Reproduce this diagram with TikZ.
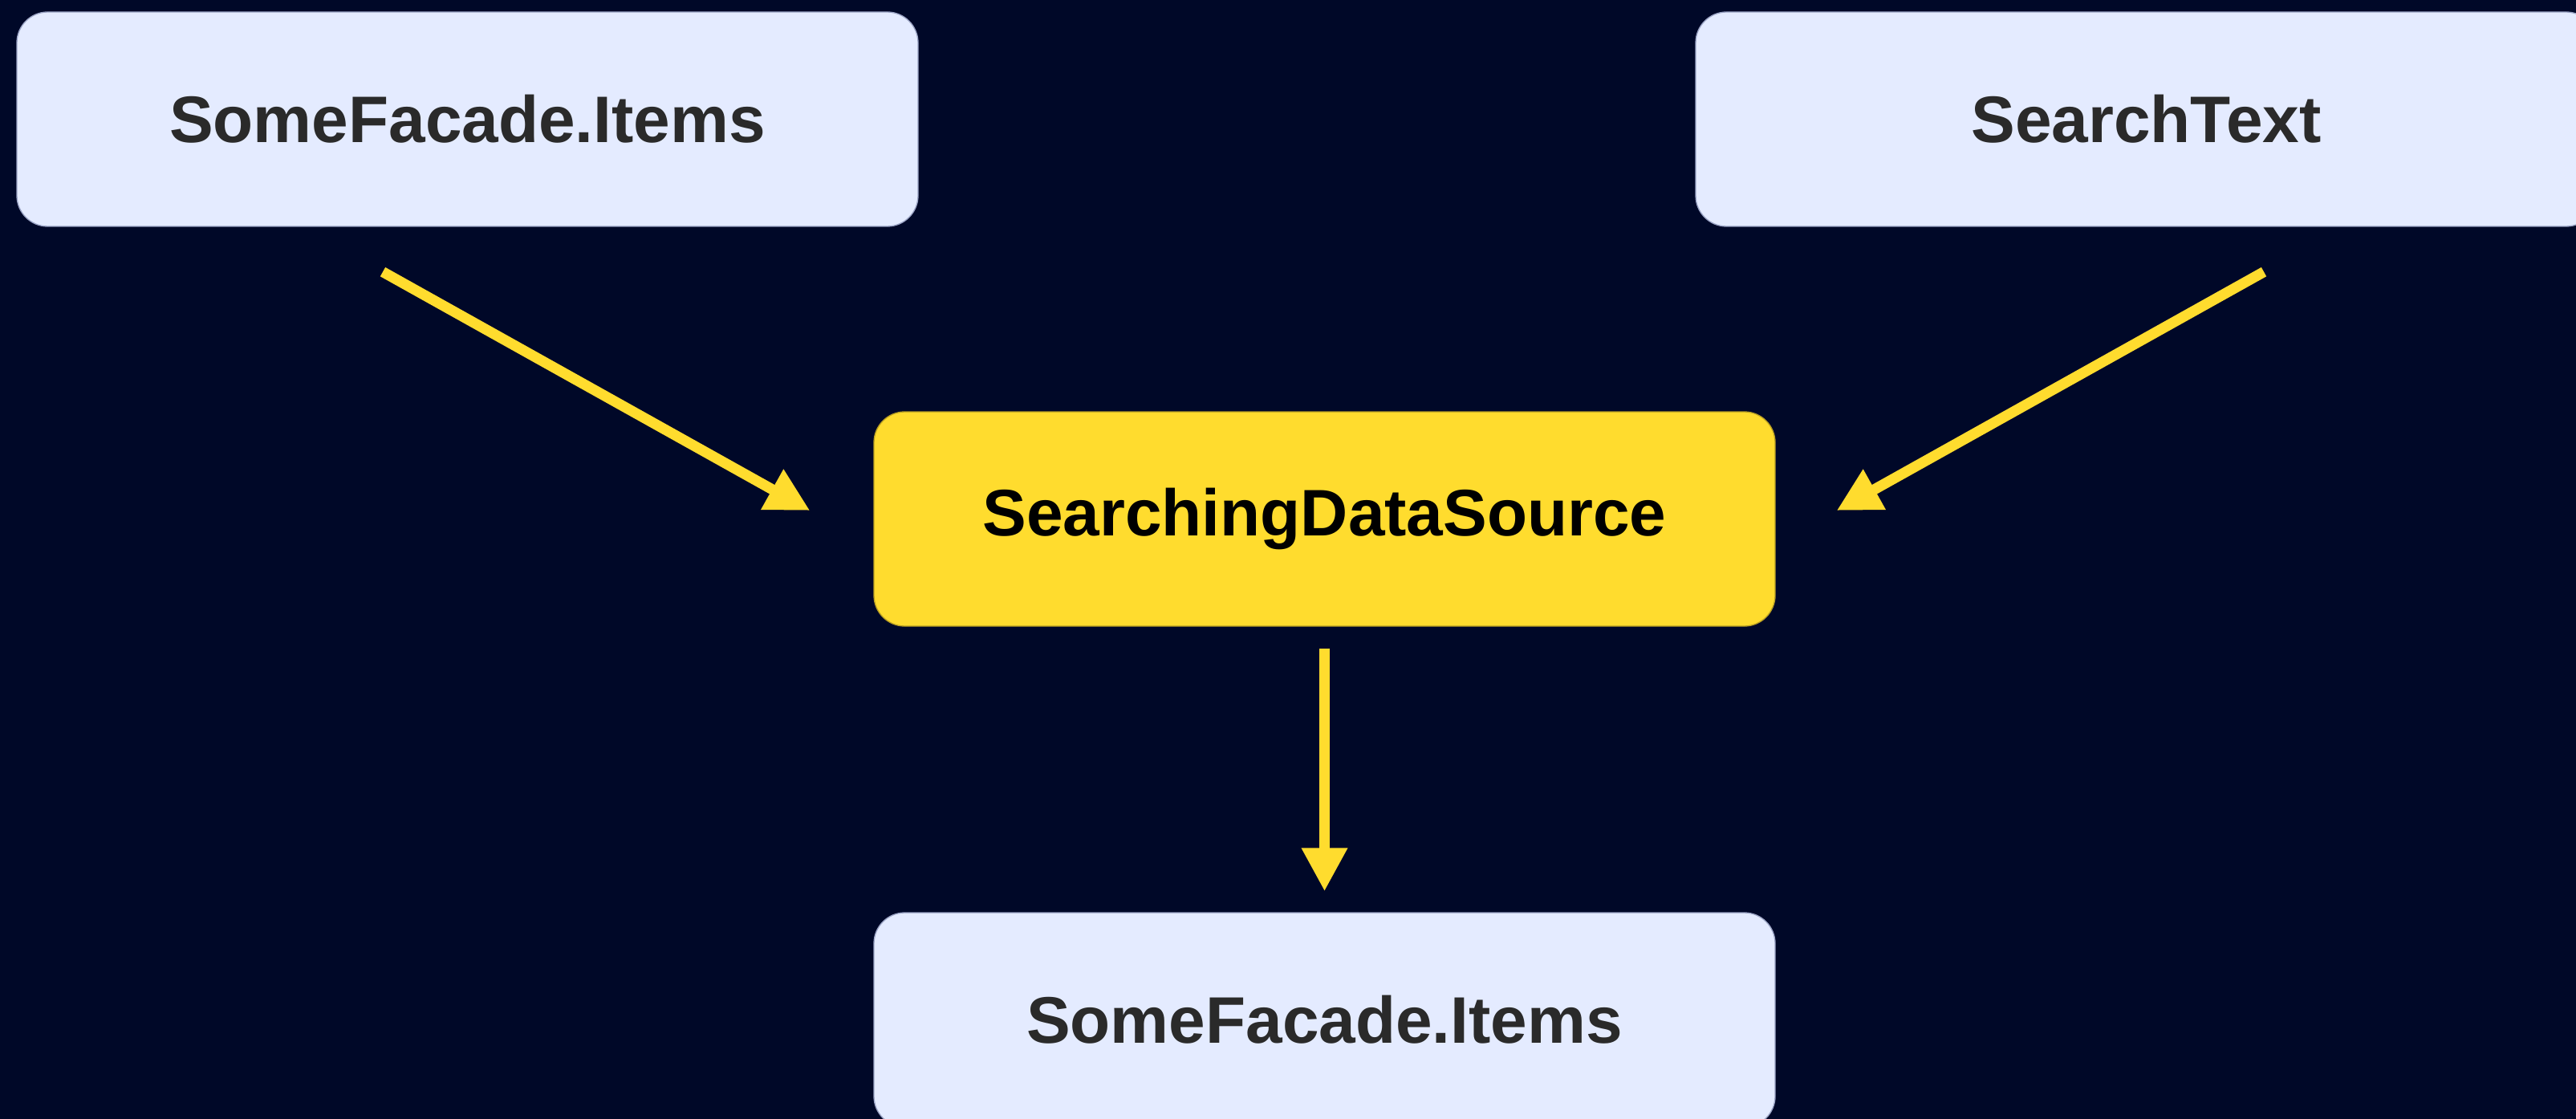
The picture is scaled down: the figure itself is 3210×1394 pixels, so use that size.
\documentclass[tikz,border=0pt]{standalone}
\usepackage{fontspec}
\setmainfont{Liberation Sans}
\usetikzlibrary{arrows.meta,calc}

\definecolor{bgnavy}{HTML}{000828}
\definecolor{boxlight}{HTML}{E4EBFF}
\definecolor{boxedge}{HTML}{9AA3C4}
\definecolor{labelgray}{HTML}{2A2A2A}
\definecolor{accent}{HTML}{FFDC2E}
\definecolor{accentedge}{HTML}{B89E22}

\tikzset{
  card/.style={rectangle, rounded corners=11.5pt, inner sep=0pt,
    minimum width=336.9pt, minimum height=80.1pt,
    font=\fontsize{24.6}{30}\selectfont\bfseries},
  plaincard/.style={card, fill=boxlight, draw=boxedge, line width=0.4pt,
    text=labelgray},
  hotcard/.style={card, fill=accent, draw=accentedge, line width=0.4pt,
    text=black},
  flow/.style={draw=accent, line width=3.9pt,
    -{Triangle[length=16.2pt,width=16.2pt]}}
}

\begin{document}
\begin{tikzpicture}[x=0.3pt,y=-0.3pt]
  % canvas
  \useasboundingbox (0,0) rectangle (3210,1394);
  \fill[bgnavy] (0,0) rectangle (3210,1394);

  % boxes
  \node[plaincard] (items) at (582.5,148.5) {SomeFacade.Items};
  \node[plaincard] (search) at (2674.5,148.5) {SearchText};
  \node[hotcard] (source) at (1650.5,646.5) {SearchingDataSource};
  \node[plaincard] (result) at (1650.5,1270.5) {SomeFacade.Items};

  % arrow end points
  \coordinate (itemsOut) at ($(items.south)+(-105.5,56)$);
  \coordinate (sourceInL) at ($(source.west)+(-79,-10.5)$);
  \coordinate (searchOut) at ($(search.south)+(146.5,56)$);
  \coordinate (sourceInR) at ($(source.east)+(76,-10.5)$);
  \coordinate (sourceOut) at ($(source.south)+(0,27)$);
  \coordinate (resultIn) at ($(result.north)+(0,-26)$);

  % connectors
  \draw[flow] (itemsOut) -- (sourceInL);
  \draw[flow] (searchOut) -- (sourceInR);
  \draw[flow] (sourceOut) -- (resultIn);
\end{tikzpicture}
\end{document}
